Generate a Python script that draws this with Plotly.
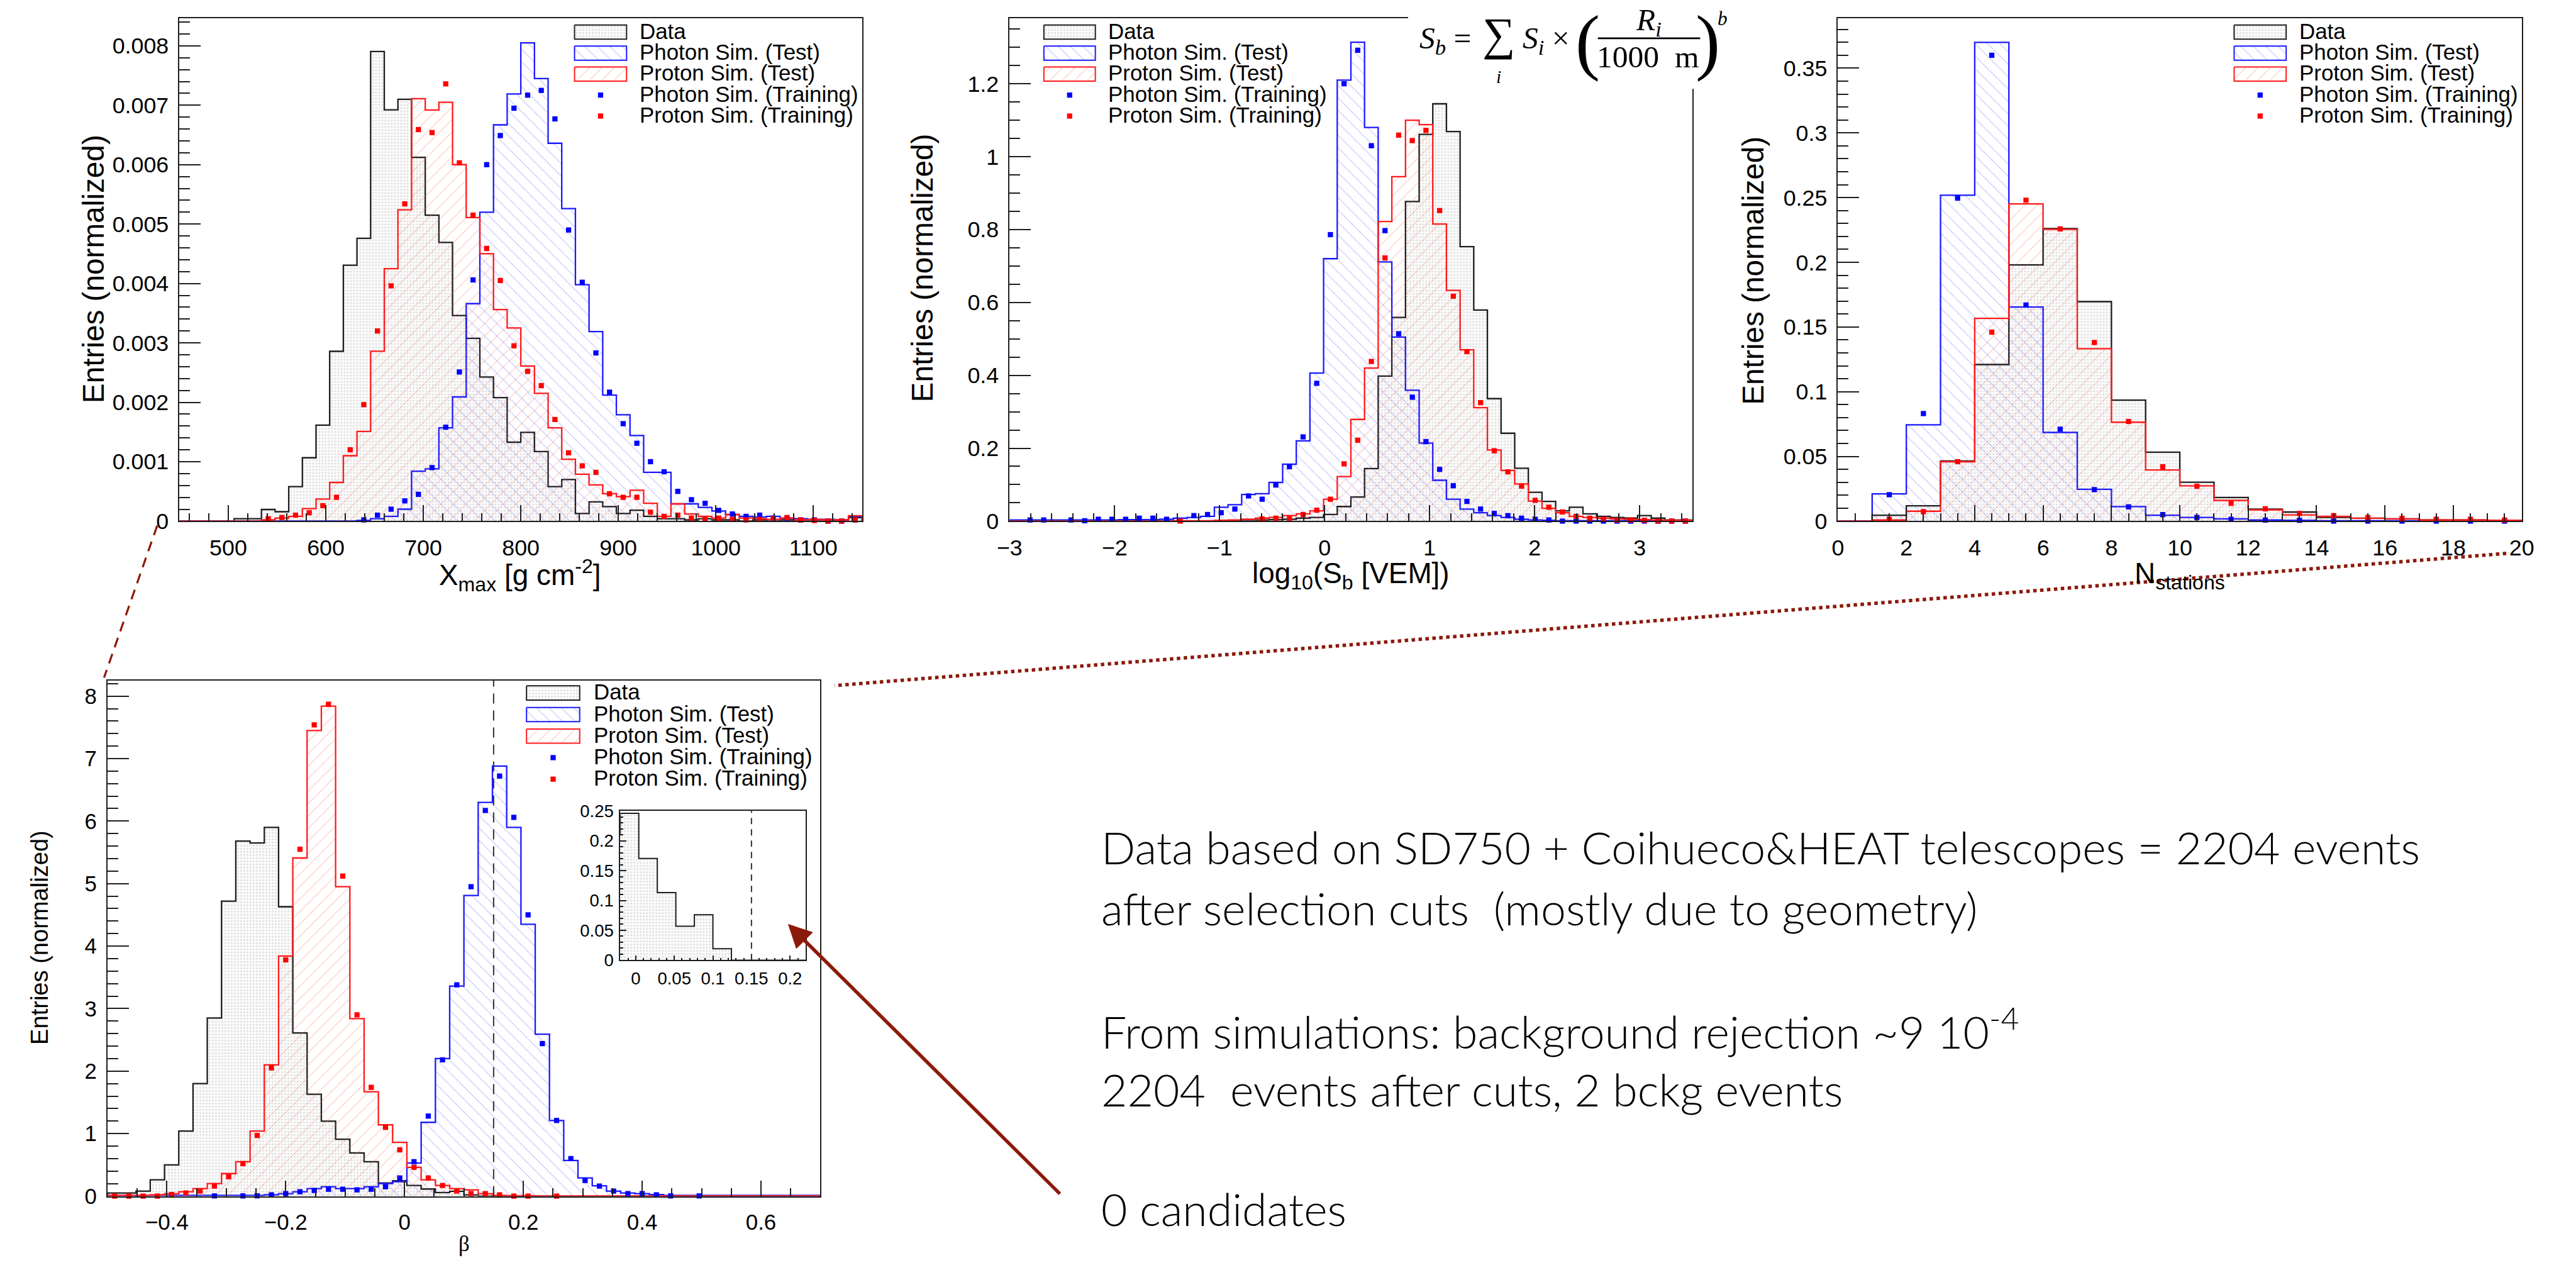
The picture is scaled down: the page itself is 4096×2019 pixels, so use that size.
import math
import plotly.graph_objects as go

# ---------------------------------------------------------------------------
# Histogram contents (normalised entries per bin)
# ---------------------------------------------------------------------------

# Xmax: 50 bins of 14 g/cm^2 starting at 450
XMAX_START, XMAX_WIDTH = 450, 14
xmax_data = [
    0, 0, 0, 0, 0.00004, 0.00004, 0.000195, 0.000158, 0.000579, 0.001066,
    0.001615, 0.002858, 0.004308, 0.004759, 0.007904, 0.006923, 0.007099, 0.006124, 0.005149, 0.004692,
    0.003461, 0.003077, 0.002425, 0.002078, 0.001328, 0.001493, 0.00117, 0.000579, 0.0007, 0.000128,
    0.000323, 0.000244, 0.000128, 0.000183, 0.00008, 0.00004, 0.00004, 0.00002, 0.00004, 0.00002,
    0.00002, 0, 0.00002, 0, 0.00002, 0, 0, 0, 0.00002, 0.00006,
]
xmax_photon_test = [
    0, 0, 0, 0, 0, 0, 0, 0, 0, 0,
    0, 0, 0, 0.00001, 0.00004, 0.00008, 0.0002, 0.00084, 0.00088, 0.00157,
    0.00209, 0.00366, 0.0052, 0.00667, 0.00719, 0.00805, 0.00745, 0.00636, 0.00526, 0.00398,
    0.00319, 0.00212, 0.00179, 0.00144, 0.00082, 0.00082, 0.00029, 0.00029, 0.00023, 0.00017,
    0.00011, 0.00008, 0.00007, 0.00008, 0.00005, 0.00004, 0.00003, 0.00003, 0.00002, 0.00008,
]
xmax_proton_test = [
    0, 0, 0, 0, 0, 0, 0.00002, 0.00005, 0.00008, 0.00021,
    0.00037, 0.00065, 0.0011, 0.00151, 0.00286, 0.00425, 0.00524, 0.00711, 0.00692, 0.00705,
    0.006, 0.00511, 0.0045, 0.00356, 0.00325, 0.00261, 0.00215, 0.00157, 0.00104, 0.00079,
    0.00061, 0.00046, 0.00041, 0.00052, 0.0003, 0.00008, 0.00029, 0.00012, 0.00008, 0.00005,
    0.00011, 0.00005, 0.00004, 0.00003, 0.00005, 0.00002, 0.00003, 0.00002, 0.00002, 0.00009,
]
xmax_photon_train = [
    None, None, None, None, None, None, None, None, None, None,
    None, None, None, 0.00002, 0.0001, 0.0002, 0.00034, 0.00045, 0.0009, 0.00158,
    0.00251, 0.00406, 0.006, 0.00649, 0.00695, 0.00717, 0.00725, 0.00677, 0.0049, 0.00402,
    0.00283, 0.00217, 0.00164, 0.00131, 0.001, 0.00083, 0.0005, 0.00036, 0.0003, 0.00018,
    0.00012, 0.00008, 0.0001, 0.00005, 0.00005, 0.00002, 0.00002, 0.0, 0.0, 0.00002,
]
xmax_proton_train = [
    None, None, None, None, None, None, 0.00004, 0.00006, 0.0001, 0.00014,
    0.00026, 0.0004, 0.0012, 0.00196, 0.0032, 0.00396, 0.00534, 0.00659, 0.00654, 0.00736,
    0.00603, 0.00515, 0.00459, 0.00405, 0.00295, 0.00252, 0.00228, 0.00171, 0.00115, 0.00093,
    0.00082, 0.00046, 0.0004, 0.0004, 0.00015, 0.00008, 0.0001, 0.00005, 0.00004, 0.00005,
    0.00003, 0.00002, 0.00003, 0.00004, 0.00006, 0.00002, 0.00001, 0.0, 0.0, 0.00002,
]

# log10(Sb): 50 bins of 0.13 starting at -3
SB_START, SB_WIDTH = -3.0, 0.13
sb_data = [
    0, 0, 0, 0, 0, 0, 0, 0, 0, 0,
    0, 0, 0, 0, 0, 0, 0.002, 0.003, 0.003, 0.004,
    0.005, 0.008, 0.01, 0.018, 0.04, 0.066, 0.144, 0.398, 0.559, 0.877,
    1.061, 1.145, 1.069, 0.753, 0.579, 0.336, 0.241, 0.145, 0.079, 0.054,
    0.028, 0.038, 0.02, 0.013, 0.01, 0.008, 0.015, 0.008, 0.003, 0.003,
]
sb_photon_test = [
    0.003, 0.003, 0.003, 0.003, 0.003, 0.003, 0.003, 0.003, 0.004, 0.004,
    0.004, 0.005, 0.008, 0.01, 0.013, 0.038, 0.045, 0.073, 0.075, 0.106,
    0.156, 0.22, 0.406, 0.72, 1.21, 1.314, 1.08, 0.711, 0.505, 0.359,
    0.214, 0.112, 0.06, 0.033, 0.023, 0.015, 0.01, 0.005, 0.003, 0.002,
    0.001, 0.001, 0.001, 0.001, 0.001, 0.001, 0.001, 0.001, 0.001, 0.001,
]
sb_proton_test = [
    0, 0, 0, 0, 0, 0, 0, 0, 0, 0,
    0, 0, 0.001, 0.001, 0.001, 0.002, 0.003, 0.005, 0.008, 0.01,
    0.015, 0.02, 0.028, 0.06, 0.122, 0.279, 0.42, 0.822, 0.945, 1.1,
    1.088, 0.815, 0.633, 0.47, 0.311, 0.195, 0.139, 0.102, 0.055, 0.035,
    0.023, 0.013, 0.01, 0.008, 0.006, 0.005, 0.004, 0.003, 0.002, 0.002,
]
sb_photon_train = [
    None, 0.003, 0.003, None, 0.003, 0.001, 0.005, 0.005, 0.005, 0.008,
    0.008, 0.005, None, 0.015, 0.018, 0.023, 0.033, 0.069, 0.06, 0.099,
    0.149, 0.231, 0.378, 0.786, 1.2, 1.292, 1.03, 0.797, 0.514, 0.34,
    0.218, 0.142, 0.097, 0.054, 0.033, 0.021, 0.015, 0.008, 0.005, 0.003,
    0, 0, 0, 0, 0, 0, 0, 0, 0, 0,
]
sb_proton_train = [
    None, None, None, None, None, None, None, None, None, None,
    None, None, 0.0, None, None, None, None, None, 0.006, 0.008,
    0.008, 0.018, 0.03, 0.06, 0.157, 0.222, 0.438, 0.722, 1.059, 1.044,
    1.072, 0.852, 0.617, 0.465, 0.325, 0.193, 0.135, 0.096, 0.057, 0.038,
    0.025, 0.013, 0.008, 0.005, 0.003, 0.003, 0.002, 0, 0, 0,
]

# N_stations: 20 unit bins starting at 0
NST_START, NST_WIDTH = 0, 1
nst_data = [0, 0.0045, 0.0118, 0.0464, 0.121, 0.198, 0.226, 0.1696, 0.0935, 0.0532,
            0.03, 0.0182, 0.0092, 0.007, 0.0028, 0.0022, 0.0017, 0.0008, 0.0008, 0.0006]
nst_photon_test = [0, 0.021, 0.0744, 0.2518, 0.370, 0.1654, 0.0685, 0.0246, 0.0112, 0.0045,
                   0.0028, 0.0017, 0.0008, 0.0006, 0.0003, 0.0003, 0.0002, 0.0002, 0.0001, 0.0001]
nst_proton_test = [0, 0.0008, 0.0076, 0.0459, 0.1567, 0.2451, 0.2255, 0.1332, 0.0764, 0.0395,
                   0.0272, 0.016, 0.0087, 0.0048, 0.0036, 0.0022, 0.0017, 0.0008, 0.0008, 0.0006]
nst_photon_train = [None, 0.0204, 0.0831, 0.2496, 0.360, 0.167, 0.071, 0.0243, 0.011, 0.005,
                    0.0028, 0.0014, 0.0008, 0.0006, 0.0, 0.0, 0.0, 0.0, 0.0, 0.0]
nst_proton_train = [None, 0.0014, 0.0073, 0.0459, 0.146, 0.248, 0.2258, 0.138, 0.077, 0.042,
                    0.0269, 0.0137, 0.0095, 0.0059, 0.0042, 0.0028, 0.0022, 0.0014, 0.0014, 0.0008]

# beta: 50 bins of 0.024 starting at -0.5
BETA_START, BETA_WIDTH = -0.5, 0.024
beta_data = [
    0.05, 0.05, 0.08, 0.26, 0.5, 1.04, 1.8, 2.85, 4.72, 5.68,
    5.65, 5.9, 4.63, 2.61, 1.63, 1.2, 0.91, 0.69, 0.55, 0.21,
    0.246, 0.1705, 0.1133, 0.0568, 0.0759, 0.019, 0, 0, 0, 0,
    0, 0, 0, 0, 0, 0, 0, 0, 0, 0,
    0, 0, 0, 0, 0, 0, 0, 0, 0, 0,
]
beta_photon_test = [
    0.01, 0.01, 0.01, 0.01, 0.01, 0.01, 0.01, 0.01, 0.01, 0.01,
    0.01, 0.02, 0.04, 0.07, 0.12, 0.15, 0.12, 0.12, 0.15, 0.2,
    0.23, 0.53, 1.18, 2.2, 3.36, 4.81, 6.3, 6.88, 5.9, 4.35,
    2.59, 1.21, 0.57, 0.29, 0.165, 0.08, 0.05, 0.04, 0.025, 0.01,
    0.01, 0.01, 0.01, 0.01, 0.01, 0.01, 0.01, 0.01, 0.01, 0.01,
]
beta_proton_test = [
    0.01, 0.01, 0.01, 0.02, 0.04, 0.07, 0.12, 0.2, 0.36, 0.55,
    1.04, 2.1, 3.84, 5.41, 7.45, 7.84, 4.95, 2.84, 1.67, 1.14,
    0.86, 0.46, 0.26, 0.17, 0.12, 0.1, 0.04, 0.01, 0.005, 0.005,
    0.003, 0.003, 0.003, 0.003, 0.003, 0.003, 0.003, 0.003, 0.003, 0.003,
    0.003, 0.003, 0.003, 0.003, 0.003, 0.003, 0.003, 0.003, 0.003, 0.003,
]
beta_photon_train = [
    None, None, None, None, None, None, None, 0.003, None, 0.003,
    0.005, 0.02, 0.04, 0.07, 0.09, 0.11, 0.11, 0.1, 0.11, 0.15,
    0.29, 0.55, 1.28, 2.18, 3.38, 4.95, 6.17, 6.72, 6.06, 4.5,
    2.44, 1.21, 0.6, 0.25, 0.16, 0.08, 0.04, 0.04, 0.02, 0.003,
    None, 0.003, None, None, None, None, None, None, None, None,
]
beta_proton_train = [
    0, 0, 0, 0, 0.025, 0.05, 0.08, 0.16, 0.31, 0.52,
    0.97, 2.05, 3.78, 5.55, 7.54, 7.87, 5.12, 2.9, 1.74, 1.1,
    0.74, 0.46, 0.29, 0.17, 0.08, 0.04, 0.04, 0.02, 0, 0,
    None, 0, None, None, None, None, None, None, None, None,
    None, None, None, None, None, None, None, None, None, None,
]
BETA_CUT = 0.15

LEGEND_LABELS = ["Data", "Photon Sim. (Test)", "Proton Sim. (Test)",
                 "Photon Sim. (Training)", "Proton Sim. (Training)"]

NOTES = [
    "Data based on SD750 + Coihueco&HEAT telescopes = 2204 events",
    "after selection cuts  (mostly due to geometry)",
    "From simulations: background rejection ~9 10<sup>-4</sup>",
    "2204  events after cuts, 2 bckg events",
    "0 candidates",
]

# ---------------------------------------------------------------------------
# Geometry helpers: layout is described on a 4462 x 2199 design grid
# ---------------------------------------------------------------------------
GW, GH = 4462, 2199
W, H = 4096, 2019
K = W / GW


def px(x):
    return x / GW


def py(y):
    return 1 - y / GH


def fs(v):
    return v * K


SANS = "Liberation Sans, Arial, Helvetica, sans-serif"
SERIF = "Liberation Serif, Times New Roman, serif"
NOTE_FONT = "Lato, Open Sans, sans-serif"
FRAME = "#1e1e1e"
BLUE = "#1a1aff"
RED = "#ff1a1a"
DARK_RED = "#8c1a0b"

PAT_DATA = dict(shape=".", fgcolor="rgba(120,120,120,0.42)", bgcolor="rgba(240,240,240,0.25)",
                size=5, solidity=0.15, fillmode="replace")
PAT_PHOTON = dict(shape="\\", fgcolor="rgba(90,90,255,0.38)", bgcolor="rgba(0,0,0,0)",
                  size=14, solidity=0.08, fillmode="replace")
PAT_PROTON = dict(shape="/", fgcolor="rgba(255,100,80,0.38)", bgcolor="rgba(0,0,0,0)",
                  size=14, solidity=0.08, fillmode="replace")

fig = go.Figure()


def edges(start, width, n):
    return [start + width * i for i in range(n + 1)]


def step_trace(start, width, values, color, pattern, ax, ay, lw=2.3):
    e = edges(start, width, len(values))
    xs = [e[0]] + e[:-1] + [e[-1], e[-1]]
    ys = [0] + list(values) + [values[-1], 0]
    fig.add_trace(go.Scatter(
        x=xs, y=ys, mode="lines", line=dict(shape="hv", color=color, width=lw),
        fill="tozeroy", fillcolor="rgba(0,0,0,0)", fillpattern=pattern,
        xaxis=ax, yaxis=ay, showlegend=False, hoverinfo="skip"))


def point_trace(start, width, values, color, ax, ay):
    centers = [start + width * (i + 0.5) for i in range(len(values))]
    fig.add_trace(go.Scatter(
        x=centers, y=values, mode="markers",
        marker=dict(symbol="square", size=fs(9), color=color, line=dict(width=0)),
        cliponaxis=False, xaxis=ax, yaxis=ay, showlegend=False, hoverinfo="skip"))


def panel(start, width, data, photon, proton, photon_tr, proton_tr, ax, ay):
    step_trace(start, width, data, FRAME, PAT_DATA, ax, ay)
    step_trace(start, width, photon, BLUE, PAT_PHOTON, ax, ay)
    step_trace(start, width, proton, RED, PAT_PROTON, ax, ay)
    point_trace(start, width, photon_tr, "#0000ff", ax, ay)
    point_trace(start, width, proton_tr, "#ff0000", ax, ay)


panel(XMAX_START, XMAX_WIDTH, xmax_data, xmax_photon_test, xmax_proton_test,
      xmax_photon_train, xmax_proton_train, "x", "y")
panel(SB_START, SB_WIDTH, sb_data, sb_photon_test, sb_proton_test,
      sb_photon_train, sb_proton_train, "x2", "y2")
panel(NST_START, NST_WIDTH, nst_data, nst_photon_test, nst_proton_test,
      nst_photon_train, nst_proton_train, "x3", "y3")
panel(BETA_START, BETA_WIDTH, beta_data, beta_photon_test, beta_proton_test,
      beta_photon_train, beta_proton_train, "x4", "y4")
# zoomed view of the data tail near the cut
step_trace(BETA_START, BETA_WIDTH, beta_data, FRAME, PAT_DATA, "x5", "y5", lw=2.0)

# ---------------------------------------------------------------------------
# Axes
# ---------------------------------------------------------------------------
AXES = {
    1: dict(box=(292, 1486, 16, 902), xr=[450, 1150], yr=[0, 0.00846],
            xd=100, x0=500, xm=20, yd=0.001, ym=0.0002, lab=39, xl=28, yl=37),
    2: dict(box=(1744, 2938, 16, 902), xr=[-3, 3.5], yr=[0, 1.379],
            xd=1, x0=0, xm=0.2, yd=0.2, ym=0.05, lab=39, xl=28, yl=37),
    3: dict(box=(3193, 4389, 16, 902), xr=[0, 20], yr=[0, 0.3884],
            xd=2, x0=0, xm=0.5, yd=0.05, ym=0.01, lab=39, xl=28, yl=37),
    4: dict(box=(166, 1413, 1183, 2092), xr=[-0.5, 0.7], yr=[0, 8.25],
            xd=0.2, x0=0, xm=0.05, yd=1, ym=0.2, lab=38, xl=27, yl=37),
    5: dict(box=(1063, 1387, 1413, 1676), xr=[-0.02, 0.22], yr=[0, 0.25],
            xd=0.05, x0=0, xm=0.01, yd=0.05, ym=0.01, lab=30, xl=8, yl=11),
}

layout_axes = {}
for n, a in AXES.items():
    x0, x1, y0, y1 = a["box"]
    sx = "" if n == 1 else str(n)
    common = dict(showline=True, linecolor=FRAME, linewidth=2, mirror=True,
                  showgrid=False, zeroline=False, ticks="inside", tickcolor=FRAME,
                  tickwidth=2, layer="above traces", fixedrange=True,
                  tickfont=dict(family=SANS, size=fs(a["lab"]), color="black"))
    layout_axes["xaxis" + sx] = dict(
        common, domain=[px(x0), px(x1)], anchor="y" + sx, range=a["xr"],
        tick0=a["x0"], dtick=a["xd"], ticklen=fs(a["xl"]),
        ticklabelstandoff=int(fs(11 if n < 5 else 5)),
        minor=dict(ticks="inside", dtick=a["xm"], ticklen=fs(a["xl"] / 2),
                   tickwidth=2, tickcolor=FRAME, showgrid=False))
    layout_axes["yaxis" + sx] = dict(
        common, domain=[py(y1), py(y0)], anchor="x" + sx, range=a["yr"],
        tick0=0, dtick=a["yd"], ticklen=fs(a["yl"]),
        ticklabelstandoff=int(fs(9 if n < 5 else 4)),
        minor=dict(ticks="inside", dtick=a["ym"], ticklen=fs(a["yl"] / 2),
                   tickwidth=2, tickcolor=FRAME, showgrid=False))

# full-page canvas axes (design-grid units) for the legend keys
layout_axes["xaxis6"] = dict(domain=[0, 1], range=[0, GW], visible=False,
                             anchor="y6", fixedrange=True)
layout_axes["yaxis6"] = dict(domain=[0, 1], range=[GH, 0], visible=False,
                             anchor="x6", fixedrange=True)

annotations = []
shapes = []


def note(text, x, y, size, family=SANS, xanchor="center", yanchor="middle",
         angle=0, color="black", weight=None):
    f = dict(family=family, size=fs(size), color=color)
    if weight is not None:
        f["weight"] = weight
    annotations.append(dict(text=text, x=px(x), y=py(y), xref="paper", yref="paper",
                            showarrow=False, xanchor=xanchor, yanchor=yanchor,
                            textangle=angle, font=f))


# ---------------------------------------------------------------------------
# Legends
# ---------------------------------------------------------------------------
LEGENDS = [
    dict(bx=(983, 1074), tx=1095, rows=[40, 77, 114, 151, 188]),
    dict(bx=(1804, 1894), tx=1914, rows=[40, 77, 114, 151, 188]),
    dict(bx=(3886, 3977), tx=3998, rows=[40, 77, 114, 151, 188]),
    dict(bx=(899, 992), tx=1014, rows=[1205, 1243, 1281, 1319, 1357]),
]
KEY_STYLE = [(FRAME, PAT_DATA), (BLUE, PAT_PHOTON), (RED, PAT_PROTON)]
for lg in LEGENDS:
    bx0, bx1 = lg["bx"]
    for i, (col, pat) in enumerate(KEY_STYLE):
        yc = lg["rows"][i]
        fig.add_trace(go.Scatter(
            x=[bx0, bx1, bx1, bx0, bx0], y=[yc - 12.5, yc - 12.5, yc + 12.5, yc + 12.5, yc - 12.5],
            mode="lines", fill="toself", fillcolor="rgba(0,0,0,0)", fillpattern=pat,
            line=dict(color=col, width=2), xaxis="x6", yaxis="y6",
            showlegend=False, hoverinfo="skip"))
    mx = (bx0 + bx1) / 2
    for i, col in ((3, "#0000ff"), (4, "#ff0000")):
        fig.add_trace(go.Scatter(
            x=[mx], y=[lg["rows"][i]], mode="markers",
            marker=dict(symbol="square", size=fs(9), color=col, line=dict(width=0)),
            xaxis="x6", yaxis="y6", showlegend=False, hoverinfo="skip"))
    for i, lab in enumerate(LEGEND_LABELS):
        note(lab, lg["tx"], lg["rows"][i] - 2, 38, xanchor="left")

# ---------------------------------------------------------------------------
# Axis titles
# ---------------------------------------------------------------------------
YT = "Entries (normalized)"
note(YT, 141, 458, 52, angle=-90)
note(YT, 1591, 456, 52, angle=-90)
note(YT, 3045, 460, 52, angle=-90)
note(YT, 48, 1636, 41.5, angle=-90)
note("X<sub>max</sub> [g cm<sup>-2</sup>]", 888, 998, 50)
note("log<sub>10</sub>(S<sub>b</sub> [VEM])", 2341, 998, 50)
note("N<sub>stations</sub>", 3791, 998, 50)
note("β", 790, 2176, 38, family=SERIF)

# ---------------------------------------------------------------------------
# Sb definition written above the middle panel
# ---------------------------------------------------------------------------
shapes.append(dict(type="rect", xref="paper", yref="paper", x0=px(2441), x1=px(3012),
                   y0=py(140), y1=py(-5), fillcolor="white", line=dict(width=0),
                   layer="above"))
note("<i>S</i><sub><i>b</i></sub> =", 2459, 54, 54, family=SERIF, xanchor="left")
note("∑", 2599, 44, 80, family=SERIF)
note("<i>i</i>", 2599, 119, 32, family=SERIF)
note("<i>S</i><sub><i>i</i></sub> ×", 2639, 54, 54, family=SERIF, xanchor="left")
note("(", 2755, 56, 128, family=SERIF)
note("<i>R</i><sub><i>i</i></sub>", 2862, 22, 54, family=SERIF)
shapes.append(dict(type="line", xref="paper", yref="paper", x0=px(2773), x1=px(2952),
                   y0=py(51), y1=py(51), line=dict(color="black", width=fs(3)),
                   layer="above"))
note("1000  m", 2860, 84, 54, family=SERIF)
note(")", 2965, 56, 128, family=SERIF)
note("<i>b</i>", 2991, 16, 34, family=SERIF)

# ---------------------------------------------------------------------------
# Cut markers, connectors, arrow and notes
# ---------------------------------------------------------------------------
for ax, dash in (("x4", "16px,11px"), ("x5", "10px,8px")):
    shapes.append(dict(type="line", xref=ax, yref=ax.replace("x", "y") + " domain",
                       x0=BETA_CUT, x1=BETA_CUT, y0=0, y1=1,
                       line=dict(color="#333333", width=fs(2.2), dash=dash)))

shapes.append(dict(type="line", xref="paper", yref="paper",
                   x0=px(253), y0=py(910), x1=px(160), y1=py(1178),
                   line=dict(color=DARK_RED, width=fs(3.5), dash="16px,11px")))
shapes.append(dict(type="line", xref="paper", yref="paper",
                   x0=px(4362), y0=py(959), x1=px(1438), y1=py(1192),
                   line=dict(color=DARK_RED, width=fs(6), dash="dot")))

# arrow pointing at the inset: shaft plus a filled triangular head
TIP, TAIL = (1357, 1613), (1832, 2088)
HEAD_LEN, HEAD_HALF = 40, 20
dx, dy = TAIL[0] - TIP[0], TAIL[1] - TIP[1]
dl = math.hypot(dx, dy)
ux, uy = dx / dl, dy / dl
bx, by = TIP[0] + HEAD_LEN * ux, TIP[1] + HEAD_LEN * uy
c1 = (bx - HEAD_HALF * uy, by + HEAD_HALF * ux)
c2 = (bx + HEAD_HALF * uy, by - HEAD_HALF * ux)
shapes.append(dict(type="line", xref="paper", yref="paper",
                   x0=px(bx - 4 * ux), y0=py(by - 4 * uy), x1=px(TAIL[0]), y1=py(TAIL[1]),
                   line=dict(color=DARK_RED, width=fs(6))))
shapes.append(dict(type="path", xref="paper", yref="paper",
                   path=(f"M {px(TIP[0])} {py(TIP[1])} L {px(c1[0])} {py(c1[1])} "
                         f"L {px(c2[0])} {py(c2[1])} Z"),
                   fillcolor=DARK_RED, line=dict(color=DARK_RED, width=1)))

NOTE_Y = [1476, 1583, 1797, 1903, 2114]
for txt, yy in zip(NOTES, NOTE_Y):
    note(txt, 1902, yy, 78, family=NOTE_FONT, xanchor="left", weight=300,
         color="black")

fig.update_layout(
    width=W, height=H, autosize=False,
    margin=dict(l=0, r=0, t=0, b=0, pad=0),
    paper_bgcolor="white", plot_bgcolor="rgba(0,0,0,0)",
    showlegend=False, annotations=annotations, shapes=shapes,
    **layout_axes)

fig.write_html("out.html", config={"displayModeBar": False})
